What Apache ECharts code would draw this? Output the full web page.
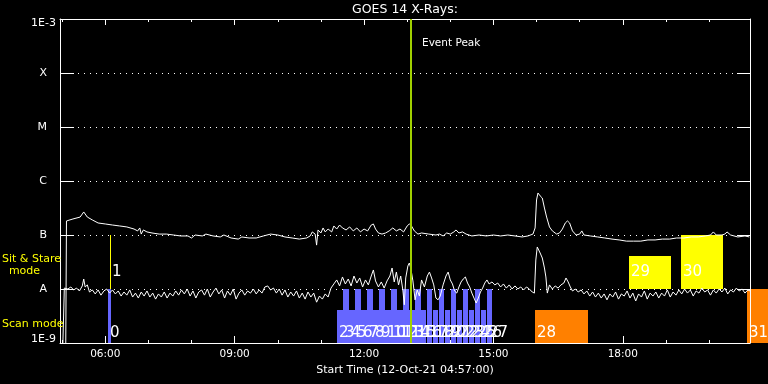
<!DOCTYPE html>
<html><head><meta charset="utf-8">
<script src="https://cdn.jsdelivr.net/npm/echarts@6/dist/echarts.min.js"></script>
<style>html,body{margin:0;padding:0;background:#000}#c{width:768px;height:384px}</style>
</head><body><div id="c"></div>
<script>
const FONT = 'DejaVu Sans';
const titleText = 'GOES 14 X-Rays:';
const axisName = 'Start Time (12-Oct-21 04:57:00)';
const startTime = '04:57';
const endTime = '20:57';
const hourTicks = [5,6,7,8,9,10,11,12,13,14,15,16,17,18,19,20];
const labelHours = [6,9,12,15,18];
const yTickLabels = ['1E-9','A','B','C','M','X','1E-3'];
const eventPeak = '13:04:36';

// GOES long channel (1-8 A)
const longTimes = [
 "05:05","05:06","05:15","05:25","05:30","05:35","05:42","05:50",
 "06:00","06:10","06:20","06:30","06:40","06:45","06:48","06:50","06:53","06:58",
 "07:05","07:15","07:25","07:35","07:45","07:55",
 "08:00","08:05","08:15","08:20","08:30","08:40","08:45","08:55",
 "09:05","09:10","09:20","09:30","09:40","09:50",
 "10:00","10:10","10:20","10:30","10:40","10:45","10:48","10:52","10:54","10:56",
 "11:00","11:03","11:06","11:10","11:15","11:18","11:22","11:26","11:30","11:35","11:40","11:45","11:50","11:55",
 "12:00","12:05","12:10","12:13","12:16","12:20","12:25","12:30","12:35","12:40","12:45","12:50","12:55",
 "13:00","13:03","13:06","13:10","13:15","13:20","13:30","13:40","13:45","13:50","13:55",
 "14:00","14:05","14:08","14:12","14:17","14:22","14:30","14:40","14:50",
 "15:00","15:10","15:20","15:30","15:40","15:48","15:55","15:58",
 "16:00","16:02","16:05","16:08","16:11","16:14","16:18","16:22","16:28","16:32","16:36","16:40","16:43","16:46","16:50","16:55",
 "17:00","17:03","17:06","17:15","17:25","17:35","17:45","17:55",
 "18:05","18:15","18:25","18:35","18:45","18:55",
 "19:05","19:15","19:25","19:35","19:45","19:55",
 "20:02","20:06","20:10","20:18","20:22","20:25","20:30","20:40","20:50","20:56"
];
const longFlux = [
 1e-9,1.82e-7,1.98e-7,2.15e-7,2.67e-7,2.15e-7,1.90e-7,1.67e-7,
 1.60e-7,1.53e-7,1.47e-7,1.41e-7,1.29e-7,1.19e-7,1.35e-7,1.04e-7,1.24e-7,1.14e-7,
 1.09e-7,1.04e-7,1.04e-7,1.00e-7,0.96e-7,0.96e-7,
 0.88e-7,1.00e-7,0.96e-7,1.04e-7,0.96e-7,0.92e-7,1.00e-7,0.88e-7,
 0.84e-7,0.92e-7,0.88e-7,0.88e-7,0.96e-7,1.04e-7,
 1.00e-7,0.92e-7,0.88e-7,0.84e-7,0.88e-7,0.96e-7,1.14e-7,1.04e-7,0.65e-7,1.24e-7,
 1.09e-7,1.35e-7,1.14e-7,1.29e-7,1.14e-7,1.47e-7,1.29e-7,1.53e-7,1.35e-7,1.24e-7,1.41e-7,1.19e-7,1.35e-7,1.14e-7,
 1.29e-7,1.19e-7,1.53e-7,1.60e-7,1.29e-7,1.09e-7,1.04e-7,1.09e-7,1.19e-7,1.35e-7,1.19e-7,1.29e-7,1.14e-7,
 1.47e-7,1.60e-7,1.47e-7,1.19e-7,1.04e-7,1.09e-7,1.04e-7,1.00e-7,1.04e-7,0.96e-7,1.09e-7,
 1.04e-7,1.14e-7,1.24e-7,1.09e-7,1.14e-7,1.04e-7,0.96e-7,1.00e-7,0.96e-7,
 1.00e-7,0.96e-7,1.00e-7,0.96e-7,0.92e-7,0.96e-7,1.04e-7,1.35e-7,
 4.45e-7,6.0e-7,5.3e-7,4.84e-7,3.16e-7,2.15e-7,1.41e-7,1.19e-7,1.04e-7,1.09e-7,1.29e-7,1.67e-7,1.82e-7,1.67e-7,1.19e-7,1.00e-7,
 1.04e-7,1.19e-7,1.00e-7,0.96e-7,0.92e-7,0.88e-7,0.84e-7,0.81e-7,
 0.77e-7,0.77e-7,0.77e-7,0.81e-7,0.81e-7,0.84e-7,
 0.84e-7,0.88e-7,0.88e-7,0.92e-7,0.92e-7,0.96e-7,
 1.00e-7,1.14e-7,1.00e-7,1.00e-7,1.04e-7,1.14e-7,1.00e-7,0.92e-7,0.96e-7,0.92e-7
];

// GOES short channel (0.5-4 A)
const shortTimes = [
 "05:01","05:03","05:08","05:12","05:16","05:20","05:24","05:28","05:30","05:32","05:35","05:38","05:42","05:46","05:50","05:54","05:58",
 "06:02","06:06","06:10","06:14","06:18","06:22","06:26","06:30","06:34","06:38","06:42","06:46","06:50","06:54","06:58",
 "07:02","07:06","07:10","07:14","07:18","07:22","07:26","07:30","07:34","07:38","07:42","07:46","07:50","07:54","07:58",
 "08:02","08:06","08:10","08:14","08:18","08:22","08:26","08:30","08:34","08:38","08:42","08:46","08:50","08:54","08:58",
 "09:02","09:06","09:10","09:14","09:18","09:22","09:26","09:30","09:34","09:38","09:42","09:46","09:50","09:54","09:58",
 "10:02","10:06","10:10","10:14","10:18","10:22","10:26","10:30","10:34","10:38","10:42","10:46","10:50","10:54","10:58",
 "11:02","11:06","11:10","11:14","11:18","11:22","11:26","11:30","11:34","11:38","11:42","11:46","11:50","11:54","11:58",
 "12:02","12:06","12:10","12:13","12:16","12:20","12:24","12:28","12:32","12:36","12:39","12:42","12:45","12:48","12:51","12:54","12:56","12:58",
 "13:01","13:03","13:05","13:08","13:11","13:14","13:17","13:20","13:24","13:28","13:31","13:34","13:37","13:40","13:43","13:46","13:50","13:54","13:57",
 "14:00","14:03","14:06","14:09","14:12","14:15","14:18","14:21","14:24","14:27","14:30","14:33","14:36","14:39","14:42","14:45","14:48","14:51","14:54","14:58",
 "15:02","15:06","15:10","15:14","15:18","15:22","15:26","15:30","15:34","15:38","15:42","15:46","15:50","15:54","15:57","15:59",
 "16:01","16:03","16:05","16:08","16:11","16:13","16:15","16:18","16:22","16:26","16:30","16:34","16:38","16:41","16:44","16:47","16:50","16:54","16:58",
 "17:02","17:06","17:10","17:14","17:18","17:22","17:26","17:30","17:34","17:38","17:42","17:46","17:50","17:54","17:58",
 "18:02","18:06","18:10","18:14","18:18","18:22","18:26","18:30","18:34","18:38","18:42","18:46","18:50","18:54","18:58",
 "19:02","19:06","19:10","19:14","19:18","19:22","19:26","19:30","19:34","19:38","19:42","19:46","19:50","19:54","19:58",
 "20:02","20:06","20:10","20:14","20:18","20:22","20:26","20:30","20:34","20:38","20:42","20:46","20:50","20:54","20:57"
];
const shortFlux = [
 0.10e-8,1.04e-8,1.00e-8,1.09e-8,0.96e-8,1.04e-8,0.92e-8,1.14e-8,1.53e-8,1.09e-8,1.19e-8,0.88e-8,0.96e-8,0.81e-8,0.96e-8,0.77e-8,0.92e-8,
 1.00e-8,0.84e-8,0.96e-8,0.81e-8,0.92e-8,0.74e-8,0.88e-8,0.77e-8,0.96e-8,0.71e-8,0.84e-8,0.68e-8,0.88e-8,0.74e-8,0.92e-8,
 0.71e-8,0.84e-8,0.65e-8,0.81e-8,0.71e-8,0.88e-8,0.68e-8,0.84e-8,0.74e-8,0.92e-8,0.77e-8,0.96e-8,0.81e-8,1.00e-8,0.74e-8,
 0.92e-8,0.68e-8,0.88e-8,0.96e-8,0.77e-8,1.00e-8,0.71e-8,0.88e-8,1.04e-8,0.81e-8,0.96e-8,0.68e-8,0.92e-8,0.77e-8,1.00e-8,
 0.65e-8,0.84e-8,0.96e-8,0.77e-8,0.92e-8,0.84e-8,1.00e-8,0.81e-8,0.96e-8,0.84e-8,1.09e-8,1.14e-8,0.96e-8,1.04e-8,0.84e-8,
 1.00e-8,0.77e-8,0.96e-8,0.71e-8,0.88e-8,0.74e-8,0.92e-8,0.68e-8,0.84e-8,0.65e-8,0.88e-8,0.71e-8,0.84e-8,0.57e-8,0.74e-8,
 0.65e-8,0.81e-8,0.71e-8,1.04e-8,1.24e-8,1.47e-8,1.14e-8,1.67e-8,1.24e-8,1.53e-8,1.14e-8,1.74e-8,1.29e-8,1.60e-8,1.09e-8,
 1.47e-8,1.19e-8,1.74e-8,2.25e-8,1.41e-8,1.09e-8,1.35e-8,1.04e-8,1.41e-8,1.74e-8,2.45e-8,1.35e-8,2.06e-8,1.19e-8,1.74e-8,0.96e-8,0.51e-8,1.60e-8,
 2.67e-8,3.03e-8,2.45e-8,1.41e-8,0.63e-8,0.96e-8,0.74e-8,1.47e-8,1.09e-8,1.74e-8,2.06e-8,1.60e-8,1.19e-8,0.68e-8,0.63e-8,0.74e-8,1.19e-8,1.74e-8,2.06e-8,
 1.47e-8,1.24e-8,0.92e-8,0.84e-8,1.09e-8,1.35e-8,1.53e-8,1.67e-8,1.29e-8,1.09e-8,0.84e-8,0.68e-8,0.55e-8,0.68e-8,0.88e-8,1.04e-8,1.29e-8,1.47e-8,1.24e-8,1.35e-8,
 1.19e-8,1.29e-8,1.09e-8,1.24e-8,1.04e-8,1.19e-8,1.00e-8,1.14e-8,1.00e-8,1.09e-8,0.96e-8,1.09e-8,1.00e-8,0.88e-8,0.84e-8,3.44e-8,
 6.0e-8,5.28e-8,4.64e-8,3.75e-8,2.45e-8,1.67e-8,0.84e-8,1.19e-8,1.00e-8,1.14e-8,1.04e-8,1.19e-8,1.29e-8,1.60e-8,1.35e-8,1.09e-8,0.92e-8,1.00e-8,0.88e-8,
 0.96e-8,0.81e-8,0.92e-8,0.74e-8,0.88e-8,0.71e-8,0.84e-8,0.68e-8,0.81e-8,0.63e-8,0.81e-8,0.71e-8,0.88e-8,0.65e-8,0.81e-8,
 0.74e-8,0.92e-8,0.68e-8,0.84e-8,0.60e-8,0.81e-8,0.71e-8,0.92e-8,0.65e-8,0.84e-8,0.74e-8,0.88e-8,0.68e-8,0.84e-8,0.74e-8,
 0.96e-8,0.71e-8,0.88e-8,0.77e-8,0.96e-8,0.81e-8,1.00e-8,0.84e-8,0.96e-8,0.74e-8,0.92e-8,0.84e-8,1.04e-8,0.88e-8,0.96e-8,
 0.77e-8,0.96e-8,0.84e-8,1.00e-8,0.88e-8,1.04e-8,0.81e-8,0.96e-8,0.88e-8,1.04e-8,0.92e-8,1.00e-8,0.84e-8,0.96e-8,0.92e-8
];

// Observations: label, mode, start, end, level
const obsLabels = ['0','1','2','3','4','5','6','7','8','9','10','11','12','13','14','15','16','17','18','19','20','21','22','23','24','25','26','27','28','29','30','31'];
const obsType = ['scan','stare',
 'scan','scan','scan','scan','scan','scan','scan','scan','scan','scan','scan','scan','scan',
 'scan','scan','scan','scan','scan','scan','scan','scan','scan','scan','scan','scan','scan',
 'scanWide','stare','stare','scanWide'];
const obsStart = ['06:04:00','06:06:00',
 '11:23:00','11:31:18','11:39:36','11:47:54','11:56:12','12:04:30','12:12:48','12:21:06','12:29:24','12:37:42','12:46:00','12:54:18','13:02:36',
 '13:10:54','13:19:12','13:27:30','13:35:48','13:44:06','13:52:24','14:00:42','14:09:00','14:17:18','14:25:36','14:33:54','14:42:12','14:50:30',
 '15:58:00','18:08:36','19:20:54','20:52:12'];
const obsEnd = ['06:08:00','06:07:00',
 '11:30:40','11:38:58','11:47:16','11:55:34','12:03:52','12:12:10','12:20:28','12:28:46','12:37:04','12:45:22','12:53:40','13:01:58','13:10:16',
 '13:18:34','13:26:52','13:35:10','13:43:28','13:51:46','14:00:04','14:08:22','14:16:40','14:24:58','14:33:16','14:41:34','14:49:52','14:58:10',
 '17:11:30','19:07:06','20:19:18','21:30:00'];
const obsTop = [1e-8,1e-7,
 4.1e-9,1e-8,4.1e-9,1e-8,4.1e-9,1e-8,4.1e-9,1e-8,4.1e-9,1e-8,4.1e-9,1e-8,4.1e-9,
 1e-8,4.1e-9,1e-8,4.1e-9,1e-8,4.1e-9,1e-8,4.1e-9,1e-8,4.1e-9,1e-8,4.1e-9,1e-8,
 4.1e-9,4.1e-8,1e-7,1e-8];

function toH(s){ const p = s.split(':').map(Number); return p[0] + p[1]/60 + (p[2]||0)/3600; }
[[longTimes,longFlux,'long'],[shortTimes,shortFlux,'short'],[obsStart,obsEnd,'obs']].forEach(a=>{
  if (a[0].length !== a[1].length) throw new Error(a[2]+' length mismatch '+a[0].length+' vs '+a[1].length);
});
if (obsTop.length !== obsLabels.length || obsType.length !== obsLabels.length || obsStart.length !== obsLabels.length) throw new Error('obs mismatch');

const obsColors = {scan:'#6666ff', scanWide:'#ff8000', stare:'#ffff00'};
const modeBottom = {scan:1e-9, scanWide:1e-9, stare:1e-8};
const SCAN_LABEL_LEVEL = 1.53e-9, STARE_LABEL_LEVEL = 2.06e-8;

const xMin = toH(startTime), xMax = toH(endTime);
const longData = longTimes.map((t,i)=>[toH(t), longFlux[i]]);
const shortData = shortTimes.map((t,i)=>[toH(t), shortFlux[i]]);
const obsData = obsLabels.map((l,i)=>[toH(obsStart[i]), toH(obsEnd[i]), modeBottom[obsType[i]], obsTop[i], i]);

const pad = n => (n<10?'0':'')+n;
const white = '#ffffff';
function xAx(pos, tickLen, ticks, labels, extra){
  return Object.assign({
    type:'value', position:pos, min:xMin, max:xMax, gridIndex:0,
    axisLine:{show:true, lineStyle:{color:white, width:1}},
    axisTick:{show:true, inside:true, length:tickLen, customValues:ticks, lineStyle:{color:white}},
    axisLabel: labels ? {show:true, customValues:labels, color:white, fontSize:10.5, fontFamily:FONT, margin:6,
       formatter: v => pad(Math.round(v))+':00'} : {show:false},
    splitLine:{show:false}
  }, extra||{});
}

const chart = echarts.init(document.getElementById('c'), null, {renderer:'canvas'});
chart.setOption({
  backgroundColor:'#000',
  animation:false,
  grid:{left:60, right:18, top:19, bottom:41, outerBoundsMode:'none', containLabel:false},
  xAxis:[
    xAx('bottom', 3, hourTicks, labelHours, {name:axisName, nameLocation:'middle', nameGap:20,
       nameTextStyle:{color:white, fontSize:11, fontFamily:FONT}}),
    xAx('bottom', 7, labelHours, null, {axisLine:{show:false}}),
    xAx('top', 3, hourTicks, null),
    xAx('top', 6, labelHours, null, {axisLine:{show:false}})
  ],
  yAxis:[
    {type:'log', logBase:10, min:1e-9, max:1e-3, position:'left',
     axisLine:{show:true, lineStyle:{color:white}},
     axisTick:{show:true, inside:true, length:14, lineStyle:{color:white}},
     minorTick:{show:false},
     splitLine:{show:true, lineStyle:{color:white, width:1, type:[1,5]}},
     axisLabel:{color:white, fontSize:11, fontFamily:FONT, margin:4,
       formatter: v => { const e = Math.round(Math.log10(v)); const t = yTickLabels[e+9];
         if (e === -3) return '{top|'+t+'}'; if (e === -9) return '{bot|'+t+'}'; return '{let|'+t+'}'; },
       rich:{
         top:{color:white, fontSize:11, fontFamily:FONT, padding:[8,0,0,0]},
         bot:{color:white, fontSize:11, fontFamily:FONT, padding:[0,0,7,0]},
         let:{color:white, fontSize:11, fontFamily:FONT, padding:[0,9,0,0]}
       }}},
    {type:'log', logBase:10, min:1e-9, max:1e-3, position:'right', z:10,
     axisLine:{show:true, lineStyle:{color:white}},
     axisTick:{show:true, inside:true, length:13, lineStyle:{color:white}},
     axisLabel:{show:false}, splitLine:{show:false}}
  ],
  graphic:[
    {type:'text', x:405, y:10, style:{text:titleText, fill:white, font:'12.5px "DejaVu Sans"', align:'center', verticalAlign:'middle', textAlign:'center', textVerticalAlign:'middle'}},
    {type:'text', x:422, y:43.5, style:{text:'Event Peak', fill:white, font:'10.5px "DejaVu Sans"', align:'left', verticalAlign:'middle', textAlign:'left', textVerticalAlign:'middle'}},
    {type:'text', x:2, y:259, z:20, style:{text:'Sit & Stare', fill:'#ffff00', font:'11px "DejaVu Sans"', align:'left', verticalAlign:'middle', textAlign:'left', textVerticalAlign:'middle'}},
    {type:'text', x:24.5, y:271.5, z:20, style:{text:'mode', fill:'#ffff00', font:'11px "DejaVu Sans"', align:'center', verticalAlign:'middle', textAlign:'center', textVerticalAlign:'middle'}},
    {type:'text', x:2, y:324, z:20, style:{text:'Scan mode', fill:'#ffff00', font:'11px "DejaVu Sans"', align:'left', verticalAlign:'middle', textAlign:'left', textVerticalAlign:'middle'}}
  ],
  series:[
    {type:'custom', z:1, xAxisIndex:0, yAxisIndex:0, clip:false, encode:{x:[0,1], y:[2,3]}, data:obsData,
     renderItem:function(params, api){
       const i = api.value(4);
       const type = obsType[i];
       const p0 = api.coord([api.value(0), api.value(3)]);
       const p1 = api.coord([api.value(1), api.value(2)]);
       const x0 = Math.round(p0[0]);
       const x1 = Math.max(Math.round(p1[0]), x0+1);
       const y0 = Math.round(p0[1]), y1 = Math.round(p1[1]);
       const ly = api.coord([api.value(0), type==='stare' ? STARE_LABEL_LEVEL : SCAN_LABEL_LEVEL])[1];
       return {type:'group', children:[
         {type:'rect', z2:0, shape:{x:x0, y:y0, width:x1-x0, height:y1-y0}, style:{fill:obsColors[type]}},
         {type:'text', z2:10, x:x0+2, y:ly, style:{text:obsLabels[i], fill:white, font:'15px "DejaVu Sans"', align:'left', verticalAlign:'middle'}}
       ]};
     }},
    {type:'line', z:3, name:'long', data:longData, showSymbol:false, symbol:'none', lineStyle:{color:white, width:1}, itemStyle:{color:white},
     markLine:{silent:true, symbol:'none', label:{show:false}, lineStyle:{color:'#a0d000', width:2, type:'solid'}, data:[{xAxis:toH(eventPeak)}]}},
    {type:'line', z:3, name:'short', data:shortData, showSymbol:false, symbol:'none', lineStyle:{color:white, width:1}, itemStyle:{color:white}}
  ]
});
</script></body></html>
